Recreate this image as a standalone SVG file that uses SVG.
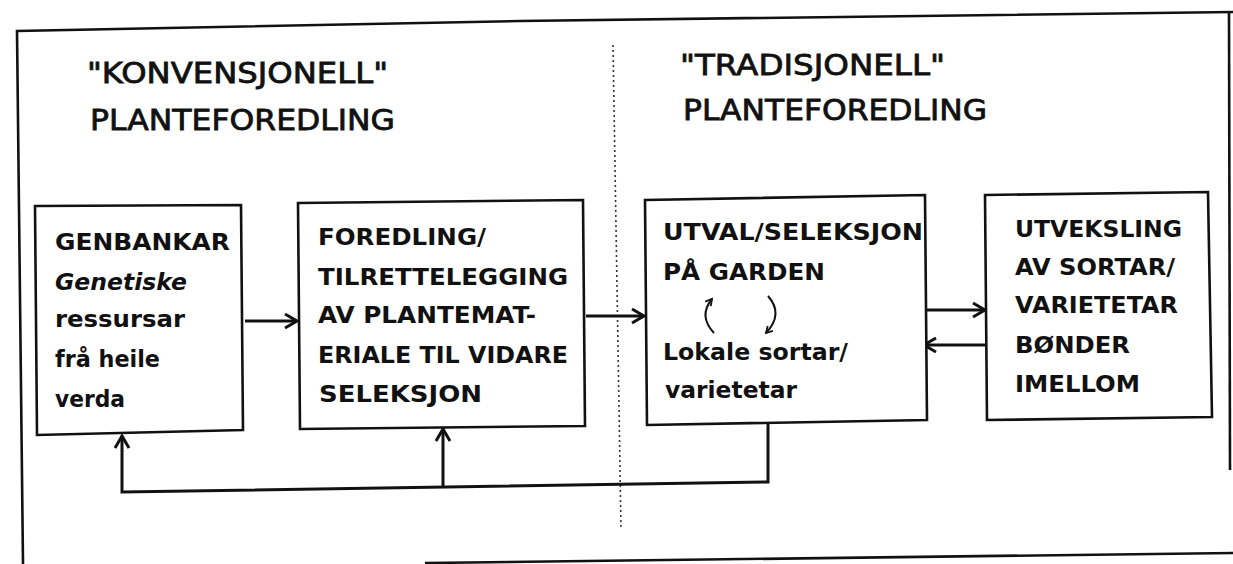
<svg xmlns="http://www.w3.org/2000/svg" width="1233" height="564" viewBox="0 0 1233 564">
  <defs>
    <style>
      .frame { fill: none; stroke: #111; stroke-width: 2.6; stroke-linejoin: miter; }
      .box { fill: #fff; stroke: #111; stroke-width: 2.6; }
      .line { fill: none; stroke: #111; stroke-width: 3; }
      .curve { fill: none; stroke: #111; stroke-width: 2; }
      .divider { fill: none; stroke: #333; stroke-width: 1.6; stroke-dasharray: 2 3; }
      .title { font-family: "DejaVu Sans", "Liberation Sans", sans-serif; font-size: 29px; fill: #111; stroke: #111; stroke-width: 0.8; }
      .lbl { font-family: "DejaVu Sans", "Liberation Sans", sans-serif; font-size: 23px; font-weight: bold; fill: #111; }
    </style>
    <marker id="arrow" viewBox="0 0 18 18" refX="15" refY="9" markerWidth="18" markerHeight="18" markerUnits="userSpaceOnUse" orient="auto">
      <path d="M3,2 L15,9 L3,16" fill="none" stroke="#111" stroke-width="3" stroke-linejoin="miter"/>
    </marker>
    <marker id="arrowSmall" viewBox="0 0 10 10" refX="8" refY="5" markerWidth="9" markerHeight="9" markerUnits="userSpaceOnUse" orient="auto">
      <path d="M1,1 L8,5 L1,9" fill="none" stroke="#111" stroke-width="2"/>
    </marker>
  </defs>

  <rect width="1233" height="564" fill="#fff"/>

  <!-- outer frame and the dotted line between the two halves -->
  <g id="frame">
    <path class="frame" d="M23,564 L17,31 L520,21 L1233,12"/>
    <path class="frame" d="M1229,13 L1230,470"/>
    <path class="frame" d="M425,563 L1233,553"/>
    <path class="divider" d="M613,45 L621,528"/>
  </g>

  <!-- section headings -->
  <g id="heading-left">
    <text class="title" x="87" y="83" textLength="301" lengthAdjust="spacingAndGlyphs">"KONVENSJONELL"</text>
    <text class="title" x="90" y="130" textLength="305" lengthAdjust="spacingAndGlyphs">PLANTEFOREDLING</text>
  </g>
  <g id="heading-right">
    <text class="title" x="680" y="75" textLength="265" lengthAdjust="spacingAndGlyphs">"TRADISJONELL"</text>
    <text class="title" x="683" y="120" textLength="304" lengthAdjust="spacingAndGlyphs">PLANTEFOREDLING</text>
  </g>

  <!-- connectors -->
  <g id="connectors">
    <path class="line" d="M245,321 L297,321" marker-end="url(#arrow)"/>
    <path class="line" d="M586,316 L644,316" marker-end="url(#arrow)"/>
    <path class="line" d="M925,310 L985,310" marker-end="url(#arrow)"/>
    <path class="line" d="M985,345 L924,345" marker-end="url(#arrow)"/>
    <!-- feedback loop from on-farm selection back to the gene banks and breeding -->
    <path class="line" d="M768,422 L768,482 L122,492 L122,436" marker-end="url(#arrow)"/>
    <path class="line" d="M443,487 L443,429" marker-end="url(#arrow)"/>
  </g>

  <g id="node-genbankar">
    <polygon class="box" points="35,206 241,205 243,430 37,435"/>
    <text class="lbl" x="55" y="250" textLength="175" lengthAdjust="spacingAndGlyphs">GENBANKAR</text>
    <text class="lbl" x="55" y="290" textLength="132" lengthAdjust="spacingAndGlyphs" font-style="italic">Genetiske</text>
    <text class="lbl" x="55" y="327" textLength="130" lengthAdjust="spacingAndGlyphs">ressursar</text>
    <text class="lbl" x="55" y="367" textLength="105" lengthAdjust="spacingAndGlyphs">frå heile</text>
    <text class="lbl" x="55" y="407" textLength="70" lengthAdjust="spacingAndGlyphs">verda</text>
  </g>

  <g id="node-foredling">
    <polygon class="box" points="298,203 583,200 585,426 300,429"/>
    <text class="lbl" x="318" y="245" textLength="168" lengthAdjust="spacingAndGlyphs">FOREDLING/</text>
    <text class="lbl" x="318" y="285" textLength="250" lengthAdjust="spacingAndGlyphs">TILRETTELEGGING</text>
    <text class="lbl" x="318" y="323" textLength="218" lengthAdjust="spacingAndGlyphs">AV PLANTEMAT-</text>
    <text class="lbl" x="318" y="363" textLength="250" lengthAdjust="spacingAndGlyphs">ERIALE TIL VIDARE</text>
    <text class="lbl" x="319" y="402" textLength="163" lengthAdjust="spacingAndGlyphs">SELEKSJON</text>
  </g>

  <g id="node-utval">
    <polygon class="box" points="645,200 925,195 927,420 647,425"/>
    <text class="lbl" x="663" y="240" textLength="260" lengthAdjust="spacingAndGlyphs">UTVAL/SELEKSJON</text>
    <text class="lbl" x="663" y="280" textLength="162" lengthAdjust="spacingAndGlyphs">PÅ GARDEN</text>
    <path class="curve" d="M714,333 Q698,316 712,299" marker-end="url(#arrowSmall)"/>
    <path class="curve" d="M768,296 Q784,314 766,333" marker-end="url(#arrowSmall)"/>
    <text class="lbl" x="663" y="360" textLength="185" lengthAdjust="spacingAndGlyphs">Lokale sortar/</text>
    <text class="lbl" x="665" y="398" textLength="132" lengthAdjust="spacingAndGlyphs">varietetar</text>
  </g>

  <g id="node-utveksling">
    <polygon class="box" points="985,195 1208,192 1212,417 987,420"/>
    <text class="lbl" x="1015" y="237" textLength="167" lengthAdjust="spacingAndGlyphs">UTVEKSLING</text>
    <text class="lbl" x="1015" y="275" textLength="160" lengthAdjust="spacingAndGlyphs">AV SORTAR/</text>
    <text class="lbl" x="1015" y="313" textLength="163" lengthAdjust="spacingAndGlyphs">VARIETETAR</text>
    <text class="lbl" x="1015" y="353" textLength="115" lengthAdjust="spacingAndGlyphs">BØNDER</text>
    <text class="lbl" x="1015" y="392" textLength="125" lengthAdjust="spacingAndGlyphs">IMELLOM</text>
  </g>
</svg>
